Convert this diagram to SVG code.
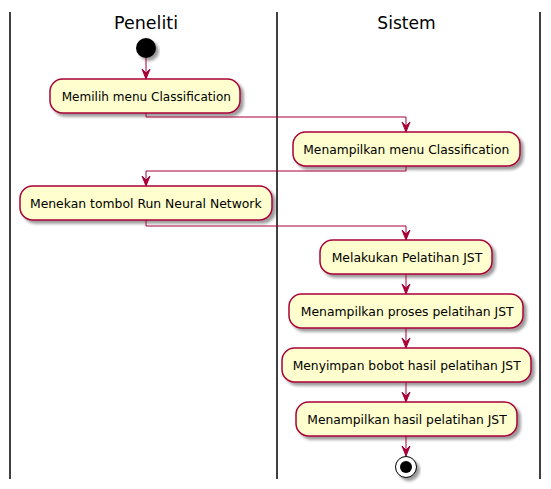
<svg xmlns="http://www.w3.org/2000/svg" width="551" height="489" viewBox="0 0 551 489">
<style>
.lane{stroke:#000;stroke-width:1.5;fill:none}
.title{font-family:"DejaVu Sans",sans-serif;font-size:18px;fill:#000;text-anchor:middle}
.act rect{fill:#FEFECE;stroke:#A80036;stroke-width:1.5;filter:url(#sh)}
.act text{font-family:"DejaVu Sans",sans-serif;font-size:12.4px;fill:#000;text-anchor:middle}
.con path{stroke:#A80036;stroke-width:1;fill:none}
.con polygon{fill:#A80036;stroke:#A80036;stroke-width:1}
</style>
<defs>
<filter id="sh" x="-10%" y="-20%" width="130%" height="160%">
<feGaussianBlur in="SourceAlpha" stdDeviation="1.7"/>
<feOffset dx="3" dy="3" result="b"/>
<feComponentTransfer><feFuncA type="linear" slope="0.4"/></feComponentTransfer>
<feMerge><feMergeNode/><feMergeNode in="SourceGraphic"/></feMerge>
</filter>
</defs>
<g id="lanes">
<line class="lane" x1="10" y1="12" x2="10" y2="479"/>
<line class="lane" x1="277" y1="12" x2="277" y2="479"/>
<line class="lane" x1="540" y1="12" x2="540" y2="479"/>
<text class="title" x="146" y="29" textLength="64" lengthAdjust="spacingAndGlyphs">Peneliti</text>
<text class="title" x="406.5" y="29" textLength="58.4" lengthAdjust="spacingAndGlyphs">Sistem</text>
</g>
<g id="start"><circle cx="146" cy="48" r="10" fill="#000" filter="url(#sh)"/></g>
<g id="a1" class="act"><rect x="50" y="79" width="190" height="34" rx="12.5"/><text x="146.3" y="101" textLength="169.3" lengthAdjust="spacingAndGlyphs">Memilih menu Classification</text></g>
<g id="a2" class="act"><rect x="293" y="132" width="227" height="34" rx="12.5"/><text x="406.3" y="154" textLength="206" lengthAdjust="spacingAndGlyphs">Menampilkan menu Classification</text></g>
<g id="a3" class="act"><rect x="20" y="186" width="252" height="34" rx="12.5"/><text x="145.8" y="208" textLength="231.7" lengthAdjust="spacingAndGlyphs">Menekan tombol Run Neural Network</text></g>
<g id="a4" class="act"><rect x="320" y="240" width="172" height="34" rx="12.5"/><text x="407" y="262" textLength="150.6" lengthAdjust="spacingAndGlyphs">Melakukan Pelatihan JST</text></g>
<g id="a5" class="act"><rect x="289" y="294" width="234" height="34" rx="12.5"/><text x="407.2" y="316" textLength="213" lengthAdjust="spacingAndGlyphs">Menampilkan proses pelatihan JST</text></g>
<g id="a6" class="act"><rect x="282" y="348" width="249" height="34" rx="12.5"/><text x="406.7" y="370" textLength="228" lengthAdjust="spacingAndGlyphs">Menyimpan bobot hasil pelatihan JST</text></g>
<g id="a7" class="act"><rect x="296" y="402" width="221" height="34" rx="12.5"/><text x="407" y="424" textLength="199.4" lengthAdjust="spacingAndGlyphs">Menampilkan hasil pelatihan JST</text></g>
<g id="stop"><circle cx="406" cy="467" r="10.5" fill="#fff" stroke="#000" stroke-width="1" filter="url(#sh)"/><circle cx="406" cy="467" r="6" fill="#000"/></g>
<g id="connectors" class="con">
<path d="M146,58 V79"/><polygon points="142,69 146,79 150,69 146,73"/>
<path d="M146,113 V117 H406 V132"/><polygon points="402,122 406,132 410,122 406,126"/>
<path d="M406,166 V171 H146 V186"/><polygon points="142,176 146,186 150,176 146,180"/>
<path d="M146,220 V226 H406 V240"/><polygon points="402,230 406,240 410,230 406,234"/>
<path d="M406,274 V294"/><polygon points="402,284 406,294 410,284 406,288"/>
<path d="M406,328 V348"/><polygon points="402,338 406,348 410,338 406,342"/>
<path d="M406,382 V402"/><polygon points="402,392 406,402 410,392 406,396"/>
<path d="M406,436 V456"/><polygon points="402,446 406,456 410,446 406,450"/>
</g>
</svg>
